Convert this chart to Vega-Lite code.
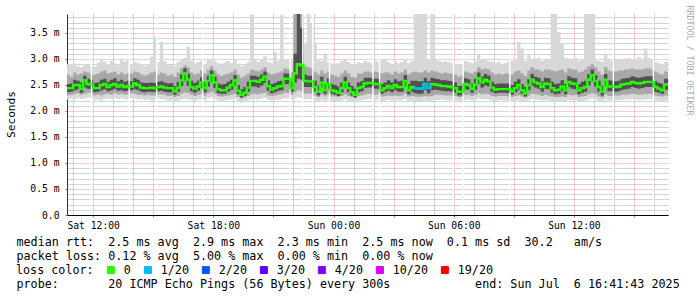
{
"$schema": "https://vega.github.io/schema/vega-lite/v6.json",
"width": 601, "height": 201,
"autosize": {"type": "none"},
"padding": {"left": 67, "top": 14, "right": 29, "bottom": 82},
"background": "white",
"config": {"view": {"stroke": null}},
"data": {"values": [
{"minute":640,"min":2.22,"max":2.9,"lo":2.3,"hi":2.7,"ilo":2.36,"ihi":2.52,"med":2.44,"loss":0},
{"minute":650,"min":2.24,"max":2.88,"lo":2.31,"hi":2.66,"ilo":2.37,"ihi":2.53,"med":2.44,"loss":0},
{"minute":660,"min":2.22,"max":2.92,"lo":2.33,"hi":2.74,"ilo":2.4,"ihi":2.6,"med":2.5,"loss":0},
{"minute":670,"min":2.25,"max":2.86,"lo":2.34,"hi":2.7,"ilo":2.42,"ihi":2.58,"med":2.5,"loss":0},
{"minute":680,"min":2.23,"max":2.84,"lo":2.31,"hi":2.72,"ilo":2.35,"ihi":2.55,"med":2.42,"loss":0},
{"minute":690,"min":2.24,"max":2.88,"lo":2.33,"hi":2.76,"ilo":2.45,"ihi":2.68,"med":2.59,"loss":0},
{"minute":700,"min":2.26,"max":2.9,"lo":2.35,"hi":2.74,"ilo":2.43,"ihi":2.62,"med":2.52,"loss":0},
{"minute":710,"min":2.25,"max":2.86,"lo":2.34,"hi":2.7,"ilo":2.42,"ihi":2.6,"med":2.51,"loss":0},
{"minute":720,"min":2.21,"max":2.85,"lo":2.3,"hi":2.7,"ilo":2.36,"ihi":2.54,"med":2.44,"loss":0},
{"minute":730,"min":2.22,"max":2.93,"lo":2.31,"hi":2.72,"ilo":2.37,"ihi":2.55,"med":2.44,"loss":0},
{"minute":740,"min":2.2,"max":2.98,"lo":2.3,"hi":2.76,"ilo":2.4,"ihi":2.6,"med":2.5,"loss":0},
{"minute":750,"min":2.23,"max":2.94,"lo":2.32,"hi":2.78,"ilo":2.42,"ihi":2.62,"med":2.52,"loss":0},
{"minute":760,"min":2.24,"max":2.9,"lo":2.33,"hi":2.72,"ilo":2.38,"ihi":2.56,"med":2.46,"loss":0},
{"minute":770,"min":2.22,"max":2.96,"lo":2.31,"hi":2.74,"ilo":2.4,"ihi":2.6,"med":2.5,"loss":0},
{"minute":780,"min":2.25,"max":2.92,"lo":2.34,"hi":2.76,"ilo":2.43,"ihi":2.63,"med":2.52,"loss":0},
{"minute":790,"min":2.23,"max":2.88,"lo":2.32,"hi":2.7,"ilo":2.39,"ihi":2.57,"med":2.47,"loss":0},
{"minute":800,"min":2.24,"max":3.0,"lo":2.33,"hi":2.74,"ilo":2.4,"ihi":2.6,"med":2.5,"loss":0},
{"minute":810,"min":2.22,"max":2.95,"lo":2.31,"hi":2.7,"ilo":2.38,"ihi":2.56,"med":2.46,"loss":0},
{"minute":820,"min":2.23,"max":2.98,"lo":2.32,"hi":2.73,"ilo":2.39,"ihi":2.58,"med":2.48,"loss":0},
{"minute":830,"min":2.25,"max":2.9,"lo":2.34,"hi":2.72,"ilo":2.4,"ihi":2.57,"med":2.47,"loss":0},
{"minute":840,"min":2.24,"max":2.94,"lo":2.33,"hi":2.76,"ilo":2.42,"ihi":2.63,"med":2.53,"loss":0},
{"minute":850,"min":2.22,"max":2.92,"lo":2.31,"hi":2.74,"ilo":2.4,"ihi":2.6,"med":2.5,"loss":0},
{"minute":860,"min":2.23,"max":2.88,"lo":2.31,"hi":2.7,"ilo":2.37,"ihi":2.55,"med":2.45,"loss":0},
{"minute":870,"min":2.21,"max":2.86,"lo":2.3,"hi":2.68,"ilo":2.36,"ihi":2.54,"med":2.44,"loss":0},
{"minute":880,"min":2.22,"max":2.9,"lo":2.31,"hi":2.7,"ilo":2.37,"ihi":2.54,"med":2.44,"loss":0},
{"minute":890,"min":2.2,"max":3.05,"lo":2.3,"hi":2.74,"ilo":2.37,"ihi":2.55,"med":2.45,"loss":0},
{"minute":900,"min":2.21,"max":3.43,"lo":2.3,"hi":2.76,"ilo":2.36,"ihi":2.54,"med":2.44,"loss":0},
{"minute":910,"min":2.24,"max":2.94,"lo":2.32,"hi":2.7,"ilo":2.38,"ihi":2.56,"med":2.46,"loss":0},
{"minute":920,"min":2.23,"max":3.33,"lo":2.32,"hi":2.74,"ilo":2.39,"ihi":2.57,"med":2.47,"loss":0},
{"minute":930,"min":2.22,"max":2.96,"lo":2.31,"hi":2.72,"ilo":2.37,"ihi":2.55,"med":2.45,"loss":0},
{"minute":940,"min":2.2,"max":2.9,"lo":2.29,"hi":2.68,"ilo":2.36,"ihi":2.53,"med":2.44,"loss":0},
{"minute":950,"min":2.21,"max":2.88,"lo":2.3,"hi":2.7,"ilo":2.36,"ihi":2.54,"med":2.44,"loss":0},
{"minute":960,"min":2.18,"max":2.86,"lo":2.27,"hi":2.66,"ilo":2.31,"ihi":2.48,"med":2.38,"loss":0},
{"minute":970,"min":2.2,"max":2.94,"lo":2.29,"hi":2.74,"ilo":2.37,"ihi":2.56,"med":2.45,"loss":0},
{"minute":980,"min":2.22,"max":2.98,"lo":2.33,"hi":2.82,"ilo":2.48,"ihi":2.7,"med":2.59,"loss":0},
{"minute":990,"min":2.24,"max":3.02,"lo":2.36,"hi":2.88,"ilo":2.58,"ihi":2.82,"med":2.72,"loss":0},
{"minute":1000,"min":2.22,"max":3.24,"lo":2.34,"hi":2.84,"ilo":2.48,"ihi":2.72,"med":2.6,"loss":0},
{"minute":1010,"min":2.21,"max":2.96,"lo":2.31,"hi":2.74,"ilo":2.38,"ihi":2.58,"med":2.46,"loss":0},
{"minute":1020,"min":2.2,"max":2.92,"lo":2.29,"hi":2.7,"ilo":2.35,"ihi":2.54,"med":2.43,"loss":0},
{"minute":1030,"min":2.22,"max":2.94,"lo":2.31,"hi":2.72,"ilo":2.39,"ihi":2.58,"med":2.47,"loss":0},
{"minute":1040,"min":2.23,"max":2.96,"lo":2.33,"hi":2.78,"ilo":2.44,"ihi":2.65,"med":2.55,"loss":0},
{"minute":1050,"min":2.21,"max":2.9,"lo":2.3,"hi":2.72,"ilo":2.36,"ihi":2.55,"med":2.44,"loss":0},
{"minute":1060,"min":2.24,"max":2.98,"lo":2.34,"hi":2.8,"ilo":2.47,"ihi":2.68,"med":2.58,"loss":0},
{"minute":1070,"min":2.26,"max":3.0,"lo":2.37,"hi":2.86,"ilo":2.56,"ihi":2.78,"med":2.69,"loss":0},
{"minute":1080,"min":2.23,"max":2.96,"lo":2.33,"hi":2.78,"ilo":2.44,"ihi":2.66,"med":2.55,"loss":0},
{"minute":1090,"min":2.2,"max":2.92,"lo":2.29,"hi":2.7,"ilo":2.34,"ihi":2.53,"med":2.42,"loss":0},
{"minute":1100,"min":2.19,"max":2.9,"lo":2.28,"hi":2.68,"ilo":2.33,"ihi":2.51,"med":2.4,"loss":0},
{"minute":1110,"min":2.2,"max":2.94,"lo":2.29,"hi":2.7,"ilo":2.33,"ihi":2.52,"med":2.4,"loss":0},
{"minute":1120,"min":2.21,"max":2.96,"lo":2.3,"hi":2.72,"ilo":2.37,"ihi":2.56,"med":2.45,"loss":0},
{"minute":1130,"min":2.22,"max":2.92,"lo":2.31,"hi":2.74,"ilo":2.41,"ihi":2.6,"med":2.5,"loss":0},
{"minute":1140,"min":2.24,"max":2.98,"lo":2.33,"hi":2.8,"ilo":2.48,"ihi":2.69,"med":2.59,"loss":0},
{"minute":1150,"min":2.19,"max":2.9,"lo":2.27,"hi":2.7,"ilo":2.32,"ihi":2.5,"med":2.39,"loss":0},
{"minute":1160,"min":2.16,"max":2.86,"lo":2.24,"hi":2.64,"ilo":2.26,"ihi":2.42,"med":2.31,"loss":0},
{"minute":1170,"min":2.18,"max":2.9,"lo":2.26,"hi":2.68,"ilo":2.29,"ihi":2.46,"med":2.35,"loss":0},
{"minute":1180,"min":2.2,"max":2.94,"lo":2.29,"hi":2.72,"ilo":2.37,"ihi":2.56,"med":2.45,"loss":0},
{"minute":1190,"min":2.22,"max":3.85,"lo":2.32,"hi":2.8,"ilo":2.47,"ihi":2.68,"med":2.58,"loss":0},
{"minute":1200,"min":2.23,"max":2.98,"lo":2.33,"hi":2.78,"ilo":2.47,"ihi":2.68,"med":2.58,"loss":0},
{"minute":1210,"min":2.22,"max":2.94,"lo":2.32,"hi":2.76,"ilo":2.45,"ihi":2.66,"med":2.56,"loss":0},
{"minute":1220,"min":2.24,"max":2.98,"lo":2.34,"hi":2.8,"ilo":2.49,"ihi":2.7,"med":2.6,"loss":0},
{"minute":1230,"min":2.25,"max":3.05,"lo":2.35,"hi":2.84,"ilo":2.54,"ihi":2.76,"med":2.66,"loss":0},
{"minute":1240,"min":2.21,"max":2.94,"lo":2.3,"hi":2.74,"ilo":2.39,"ihi":2.59,"med":2.48,"loss":0},
{"minute":1250,"min":2.2,"max":2.92,"lo":2.29,"hi":2.7,"ilo":2.34,"ihi":2.52,"med":2.41,"loss":0},
{"minute":1260,"min":2.21,"max":3.14,"lo":2.3,"hi":2.72,"ilo":2.36,"ihi":2.54,"med":2.44,"loss":0},
{"minute":1270,"min":2.22,"max":2.96,"lo":2.31,"hi":2.74,"ilo":2.39,"ihi":2.57,"med":2.47,"loss":0},
{"minute":1280,"min":2.23,"max":3.85,"lo":2.32,"hi":2.76,"ilo":2.4,"ihi":2.58,"med":2.48,"loss":0},
{"minute":1290,"min":2.25,"max":3.0,"lo":2.35,"hi":2.82,"ilo":2.52,"ihi":2.72,"med":2.62,"loss":0},
{"minute":1300,"min":2.24,"max":2.98,"lo":2.34,"hi":2.8,"ilo":2.52,"ihi":2.72,"med":2.62,"loss":0},
{"minute":1310,"min":2.22,"max":2.96,"lo":2.31,"hi":2.74,"ilo":2.37,"ihi":2.56,"med":2.44,"loss":0},
{"minute":1320,"min":2.24,"max":3.87,"lo":2.36,"hi":3.87,"ilo":2.55,"ihi":3.1,"med":2.72,"loss":0},
{"minute":1330,"min":2.26,"max":3.87,"lo":2.4,"hi":3.87,"ilo":2.62,"ihi":3.87,"med":2.9,"loss":0},
{"minute":1340,"min":2.25,"max":3.87,"lo":2.38,"hi":3.87,"ilo":2.6,"ihi":3.6,"med":2.88,"loss":0},
{"minute":1350,"min":2.22,"max":3.3,"lo":2.33,"hi":2.86,"ilo":2.46,"ihi":2.7,"med":2.58,"loss":0},
{"minute":1360,"min":2.23,"max":3.87,"lo":2.34,"hi":2.84,"ilo":2.46,"ihi":2.68,"med":2.57,"loss":0},
{"minute":1370,"min":2.22,"max":3.7,"lo":2.33,"hi":2.82,"ilo":2.46,"ihi":2.68,"med":2.57,"loss":0},
{"minute":1380,"min":2.2,"max":3.3,"lo":2.3,"hi":2.76,"ilo":2.38,"ihi":2.58,"med":2.46,"loss":0},
{"minute":1390,"min":2.18,"max":3.0,"lo":2.27,"hi":2.7,"ilo":2.3,"ihi":2.49,"med":2.37,"loss":0},
{"minute":1400,"min":2.21,"max":2.96,"lo":2.31,"hi":2.78,"ilo":2.45,"ihi":2.66,"med":2.55,"loss":0},
{"minute":1410,"min":2.19,"max":3.1,"lo":2.28,"hi":2.72,"ilo":2.33,"ihi":2.52,"med":2.4,"loss":0},
{"minute":1420,"min":2.21,"max":2.94,"lo":2.31,"hi":2.76,"ilo":2.43,"ihi":2.63,"med":2.52,"loss":0},
{"minute":1430,"min":2.19,"max":2.92,"lo":2.28,"hi":2.7,"ilo":2.33,"ihi":2.52,"med":2.4,"loss":0},
{"minute":1440,"min":2.19,"max":2.9,"lo":2.28,"hi":2.68,"ilo":2.31,"ihi":2.5,"med":2.38,"loss":0},
{"minute":1450,"min":2.18,"max":2.92,"lo":2.27,"hi":2.66,"ilo":2.29,"ihi":2.47,"med":2.35,"loss":0},
{"minute":1460,"min":2.2,"max":2.96,"lo":2.29,"hi":2.72,"ilo":2.36,"ihi":2.55,"med":2.44,"loss":0},
{"minute":1470,"min":2.22,"max":2.98,"lo":2.32,"hi":2.78,"ilo":2.45,"ihi":2.66,"med":2.55,"loss":0},
{"minute":1480,"min":2.2,"max":2.94,"lo":2.29,"hi":2.72,"ilo":2.36,"ihi":2.55,"med":2.44,"loss":0},
{"minute":1490,"min":2.18,"max":2.9,"lo":2.27,"hi":2.66,"ilo":2.3,"ihi":2.48,"med":2.36,"loss":0},
{"minute":1500,"min":2.17,"max":2.88,"lo":2.25,"hi":2.64,"ilo":2.26,"ihi":2.43,"med":2.31,"loss":0},
{"minute":1510,"min":2.2,"max":2.94,"lo":2.29,"hi":2.72,"ilo":2.36,"ihi":2.55,"med":2.44,"loss":0},
{"minute":1520,"min":2.21,"max":2.92,"lo":2.3,"hi":2.72,"ilo":2.38,"ihi":2.57,"med":2.46,"loss":0},
{"minute":1530,"min":2.22,"max":2.96,"lo":2.32,"hi":2.76,"ilo":2.44,"ihi":2.64,"med":2.53,"loss":0},
{"minute":1540,"min":2.23,"max":2.94,"lo":2.33,"hi":2.76,"ilo":2.45,"ihi":2.64,"med":2.54,"loss":0},
{"minute":1550,"min":2.22,"max":2.92,"lo":2.32,"hi":2.74,"ilo":2.45,"ihi":2.64,"med":2.54,"loss":0},
{"minute":1560,"min":2.21,"max":2.96,"lo":2.31,"hi":2.76,"ilo":2.43,"ihi":2.62,"med":2.52,"loss":0},
{"minute":1570,"min":2.22,"max":2.94,"lo":2.32,"hi":2.74,"ilo":2.43,"ihi":2.62,"med":2.52,"loss":0},
{"minute":1580,"min":2.19,"max":3.0,"lo":2.28,"hi":2.72,"ilo":2.33,"ihi":2.52,"med":2.4,"loss":0},
{"minute":1590,"min":2.2,"max":3.0,"lo":2.29,"hi":2.74,"ilo":2.36,"ihi":2.55,"med":2.44,"loss":0},
{"minute":1600,"min":2.21,"max":2.94,"lo":2.3,"hi":2.74,"ilo":2.39,"ihi":2.59,"med":2.48,"loss":0},
{"minute":1610,"min":2.2,"max":2.9,"lo":2.29,"hi":2.7,"ilo":2.36,"ihi":2.55,"med":2.44,"loss":0},
{"minute":1620,"min":2.21,"max":2.96,"lo":2.3,"hi":2.76,"ilo":2.4,"ihi":2.61,"med":2.5,"loss":0},
{"minute":1630,"min":2.2,"max":2.92,"lo":2.29,"hi":2.72,"ilo":2.37,"ihi":2.57,"med":2.46,"loss":0},
{"minute":1640,"min":2.21,"max":2.94,"lo":2.3,"hi":2.74,"ilo":2.37,"ihi":2.58,"med":2.46,"loss":0},
{"minute":1650,"min":2.23,"max":2.98,"lo":2.33,"hi":2.8,"ilo":2.47,"ihi":2.69,"med":2.58,"loss":0},
{"minute":1660,"min":2.19,"max":2.92,"lo":2.28,"hi":2.7,"ilo":2.32,"ihi":2.52,"med":2.4,"loss":0},
{"minute":1670,"min":2.2,"max":2.96,"lo":2.29,"hi":2.74,"ilo":2.37,"ihi":2.58,"med":2.46,"loss":0},
{"minute":1680,"min":2.19,"max":3.87,"lo":2.28,"hi":2.76,"ilo":2.34,"ihi":2.58,"med":2.44,"loss":1},
{"minute":1690,"min":2.18,"max":3.87,"lo":2.27,"hi":2.74,"ilo":2.33,"ihi":2.57,"med":2.43,"loss":1},
{"minute":1700,"min":2.19,"max":3.87,"lo":2.28,"hi":2.74,"ilo":2.33,"ihi":2.57,"med":2.43,"loss":1},
{"minute":1710,"min":2.2,"max":3.87,"lo":2.29,"hi":2.78,"ilo":2.4,"ihi":2.64,"med":2.52,"loss":1},
{"minute":1720,"min":2.19,"max":2.98,"lo":2.28,"hi":2.74,"ilo":2.34,"ihi":2.57,"med":2.44,"loss":1},
{"minute":1730,"min":2.2,"max":3.87,"lo":2.29,"hi":2.78,"ilo":2.4,"ihi":2.64,"med":2.52,"loss":1},
{"minute":1740,"min":2.21,"max":2.98,"lo":2.31,"hi":2.76,"ilo":2.41,"ihi":2.62,"med":2.51,"loss":0},
{"minute":1750,"min":2.21,"max":2.96,"lo":2.31,"hi":2.74,"ilo":2.4,"ihi":2.61,"med":2.5,"loss":0},
{"minute":1760,"min":2.22,"max":2.94,"lo":2.31,"hi":2.72,"ilo":2.39,"ihi":2.59,"med":2.48,"loss":0},
{"minute":1770,"min":2.21,"max":2.96,"lo":2.3,"hi":2.74,"ilo":2.38,"ihi":2.59,"med":2.48,"loss":0},
{"minute":1780,"min":2.2,"max":2.94,"lo":2.3,"hi":2.72,"ilo":2.38,"ihi":2.58,"med":2.47,"loss":0},
{"minute":1790,"min":2.21,"max":2.92,"lo":2.3,"hi":2.72,"ilo":2.37,"ihi":2.57,"med":2.46,"loss":0},
{"minute":1800,"min":2.2,"max":2.9,"lo":2.29,"hi":2.7,"ilo":2.35,"ihi":2.55,"med":2.44,"loss":0},
{"minute":1810,"min":2.18,"max":2.88,"lo":2.27,"hi":2.66,"ilo":2.3,"ihi":2.48,"med":2.37,"loss":0},
{"minute":1820,"min":2.19,"max":2.9,"lo":2.27,"hi":2.68,"ilo":2.3,"ihi":2.49,"med":2.37,"loss":0},
{"minute":1830,"min":2.21,"max":2.96,"lo":2.31,"hi":2.76,"ilo":2.42,"ihi":2.63,"med":2.52,"loss":0},
{"minute":1840,"min":2.22,"max":2.94,"lo":2.31,"hi":2.74,"ilo":2.41,"ihi":2.61,"med":2.5,"loss":0},
{"minute":1850,"min":2.2,"max":2.92,"lo":2.29,"hi":2.72,"ilo":2.35,"ihi":2.53,"med":2.42,"loss":0},
{"minute":1860,"min":2.21,"max":2.96,"lo":2.31,"hi":2.76,"ilo":2.41,"ihi":2.62,"med":2.51,"loss":0},
{"minute":1870,"min":2.24,"max":3.1,"lo":2.34,"hi":2.84,"ilo":2.52,"ihi":2.74,"med":2.63,"loss":0},
{"minute":1880,"min":2.22,"max":3.0,"lo":2.32,"hi":2.8,"ilo":2.45,"ihi":2.66,"med":2.55,"loss":0},
{"minute":1890,"min":2.23,"max":2.98,"lo":2.33,"hi":2.82,"ilo":2.49,"ihi":2.71,"med":2.6,"loss":0},
{"minute":1900,"min":2.22,"max":2.96,"lo":2.32,"hi":2.8,"ilo":2.47,"ihi":2.68,"med":2.57,"loss":0},
{"minute":1910,"min":2.2,"max":2.94,"lo":2.29,"hi":2.74,"ilo":2.37,"ihi":2.56,"med":2.45,"loss":0},
{"minute":1920,"min":2.19,"max":2.92,"lo":2.28,"hi":2.7,"ilo":2.34,"ihi":2.52,"med":2.41,"loss":0},
{"minute":1930,"min":2.2,"max":2.94,"lo":2.29,"hi":2.72,"ilo":2.35,"ihi":2.53,"med":2.42,"loss":0},
{"minute":1940,"min":2.21,"max":2.9,"lo":2.29,"hi":2.7,"ilo":2.35,"ihi":2.53,"med":2.42,"loss":0},
{"minute":1950,"min":2.2,"max":2.92,"lo":2.29,"hi":2.72,"ilo":2.35,"ihi":2.53,"med":2.42,"loss":0},
{"minute":1960,"min":2.19,"max":2.94,"lo":2.28,"hi":2.72,"ilo":2.34,"ihi":2.53,"med":2.42,"loss":0},
{"minute":1970,"min":2.18,"max":2.96,"lo":2.27,"hi":2.7,"ilo":2.31,"ihi":2.5,"med":2.38,"loss":0},
{"minute":1980,"min":2.2,"max":3.0,"lo":2.29,"hi":2.76,"ilo":2.36,"ihi":2.56,"med":2.44,"loss":0},
{"minute":1990,"min":2.21,"max":3.33,"lo":2.3,"hi":2.78,"ilo":2.4,"ihi":2.61,"med":2.5,"loss":0},
{"minute":2000,"min":2.19,"max":3.2,"lo":2.28,"hi":2.72,"ilo":2.33,"ihi":2.52,"med":2.4,"loss":0},
{"minute":2010,"min":2.17,"max":2.96,"lo":2.26,"hi":2.68,"ilo":2.28,"ihi":2.46,"med":2.34,"loss":0},
{"minute":2020,"min":2.2,"max":3.1,"lo":2.3,"hi":2.78,"ilo":2.4,"ihi":2.61,"med":2.5,"loss":0},
{"minute":2030,"min":2.23,"max":3.0,"lo":2.33,"hi":2.84,"ilo":2.49,"ihi":2.71,"med":2.6,"loss":0},
{"minute":2040,"min":2.22,"max":2.98,"lo":2.32,"hi":2.8,"ilo":2.45,"ihi":2.66,"med":2.55,"loss":0},
{"minute":2050,"min":2.21,"max":3.02,"lo":2.31,"hi":2.8,"ilo":2.43,"ihi":2.64,"med":2.53,"loss":0},
{"minute":2060,"min":2.2,"max":2.96,"lo":2.29,"hi":2.76,"ilo":2.37,"ihi":2.57,"med":2.46,"loss":0},
{"minute":2070,"min":2.21,"max":2.98,"lo":2.31,"hi":2.8,"ilo":2.43,"ihi":2.64,"med":2.53,"loss":0},
{"minute":2080,"min":2.2,"max":3.0,"lo":2.3,"hi":2.8,"ilo":2.42,"ihi":2.63,"med":2.52,"loss":0},
{"minute":2090,"min":2.19,"max":3.87,"lo":2.28,"hi":2.78,"ilo":2.35,"ihi":2.56,"med":2.44,"loss":0},
{"minute":2100,"min":2.18,"max":3.87,"lo":2.27,"hi":2.76,"ilo":2.32,"ihi":2.52,"med":2.4,"loss":0},
{"minute":2110,"min":2.18,"max":3.52,"lo":2.27,"hi":2.78,"ilo":2.33,"ihi":2.53,"med":2.41,"loss":0},
{"minute":2120,"min":2.19,"max":3.3,"lo":2.28,"hi":2.8,"ilo":2.38,"ihi":2.59,"med":2.47,"loss":0},
{"minute":2130,"min":2.18,"max":3.02,"lo":2.27,"hi":2.74,"ilo":2.32,"ihi":2.52,"med":2.4,"loss":0},
{"minute":2140,"min":2.21,"max":3.0,"lo":2.31,"hi":2.82,"ilo":2.46,"ihi":2.67,"med":2.56,"loss":0},
{"minute":2150,"min":2.2,"max":2.98,"lo":2.3,"hi":2.8,"ilo":2.43,"ihi":2.64,"med":2.53,"loss":0},
{"minute":2160,"min":2.21,"max":3.02,"lo":2.31,"hi":2.8,"ilo":2.42,"ihi":2.63,"med":2.52,"loss":0},
{"minute":2170,"min":2.18,"max":2.96,"lo":2.27,"hi":2.74,"ilo":2.32,"ihi":2.52,"med":2.4,"loss":0},
{"minute":2180,"min":2.19,"max":2.98,"lo":2.28,"hi":2.76,"ilo":2.35,"ihi":2.56,"med":2.44,"loss":0},
{"minute":2190,"min":2.2,"max":3.87,"lo":2.29,"hi":2.8,"ilo":2.37,"ihi":2.58,"med":2.46,"loss":0},
{"minute":2200,"min":2.22,"max":3.87,"lo":2.32,"hi":2.86,"ilo":2.49,"ihi":2.71,"med":2.6,"loss":0},
{"minute":2210,"min":2.24,"max":3.87,"lo":2.34,"hi":2.9,"ilo":2.57,"ihi":2.8,"med":2.69,"loss":0},
{"minute":2220,"min":2.22,"max":3.0,"lo":2.32,"hi":2.84,"ilo":2.47,"ihi":2.69,"med":2.58,"loss":0},
{"minute":2230,"min":2.19,"max":2.96,"lo":2.28,"hi":2.76,"ilo":2.37,"ihi":2.58,"med":2.46,"loss":0},
{"minute":2240,"min":2.17,"max":2.94,"lo":2.26,"hi":2.7,"ilo":2.3,"ihi":2.49,"med":2.37,"loss":0},
{"minute":2250,"min":2.22,"max":3.1,"lo":2.32,"hi":2.84,"ilo":2.49,"ihi":2.71,"med":2.6,"loss":0},
{"minute":2260,"min":2.2,"max":2.98,"lo":2.29,"hi":2.78,"ilo":2.38,"ihi":2.59,"med":2.47,"loss":0},
{"minute":2270,"min":2.2,"max":2.96,"lo":2.29,"hi":2.76,"ilo":2.38,"ihi":2.58,"med":2.47,"loss":0},
{"minute":2280,"min":2.2,"max":2.98,"lo":2.3,"hi":2.76,"ilo":2.37,"ihi":2.57,"med":2.46,"loss":0},
{"minute":2290,"min":2.21,"max":3.0,"lo":2.3,"hi":2.78,"ilo":2.38,"ihi":2.58,"med":2.47,"loss":0},
{"minute":2300,"min":2.21,"max":3.0,"lo":2.31,"hi":2.78,"ilo":2.41,"ihi":2.62,"med":2.51,"loss":0},
{"minute":2310,"min":2.22,"max":2.98,"lo":2.31,"hi":2.8,"ilo":2.42,"ihi":2.63,"med":2.52,"loss":0},
{"minute":2320,"min":2.22,"max":3.02,"lo":2.32,"hi":2.8,"ilo":2.43,"ihi":2.64,"med":2.53,"loss":0},
{"minute":2330,"min":2.23,"max":3.0,"lo":2.33,"hi":2.82,"ilo":2.46,"ihi":2.67,"med":2.56,"loss":0},
{"minute":2340,"min":2.22,"max":2.98,"lo":2.32,"hi":2.8,"ilo":2.44,"ihi":2.65,"med":2.54,"loss":0},
{"minute":2350,"min":2.21,"max":3.04,"lo":2.31,"hi":2.8,"ilo":2.43,"ihi":2.64,"med":2.53,"loss":0},
{"minute":2360,"min":2.22,"max":3.0,"lo":2.32,"hi":2.8,"ilo":2.44,"ihi":2.65,"med":2.54,"loss":0},
{"minute":2370,"min":2.22,"max":3.2,"lo":2.32,"hi":2.82,"ilo":2.46,"ihi":2.67,"med":2.56,"loss":0},
{"minute":2380,"min":2.23,"max":3.02,"lo":2.33,"hi":2.82,"ilo":2.46,"ihi":2.67,"med":2.56,"loss":0},
{"minute":2390,"min":2.22,"max":3.0,"lo":2.32,"hi":2.8,"ilo":2.46,"ihi":2.67,"med":2.56,"loss":0},
{"minute":2400,"min":2.2,"max":2.94,"lo":2.3,"hi":2.76,"ilo":2.37,"ihi":2.57,"med":2.46,"loss":0},
{"minute":2410,"min":2.19,"max":2.92,"lo":2.29,"hi":2.72,"ilo":2.35,"ihi":2.54,"med":2.43,"loss":0},
{"minute":2420,"min":2.18,"max":2.9,"lo":2.28,"hi":2.7,"ilo":2.33,"ihi":2.52,"med":2.4,"loss":0},
{"minute":2430,"min":2.2,"max":2.94,"lo":2.3,"hi":2.76,"ilo":2.41,"ihi":2.62,"med":2.51,"loss":0},
{"minute":2440,"min":2.2,"max":2.94,"lo":2.3,"hi":2.76,"ilo":2.41,"ihi":2.62,"med":2.51,"loss":0},
{"minute":2450,"min":2.2,"max":2.94,"lo":2.3,"hi":2.76,"ilo":2.41,"ihi":2.62,"med":2.51,"loss":0}
]},
"resolve": {"axis": {"x": "independent", "y": "independent"}},
"layer": [
{
"mark": {"type": "area", "interpolate": "step-after", "color": "#d8d8d8", "clip": true},
"encoding": {
"x": {"field": "minute", "type": "quantitative",
 "scale": {"domain": [641.72, 2441.72], "nice": false, "zero": false},
 "axis": {
  "orient": "bottom",
  "values": [720, 900, 1080, 1260, 1440, 1620, 1800, 1980, 2160, 2340],
  "labelExpr": "datum.value % 360 == 0 ? (datum.value < 1440 ? 'Sat ' : 'Sun ') + (floor((datum.value % 1440) / 60) < 10 ? '0' : '') + floor((datum.value % 1440) / 60) + ':00' : ''",
  "labelFont": "DejaVu Sans Mono", "labelFontSize": 9.7, "labelColor": "#000", "labelPadding": 3, "labelOverlap": false, "labelFlush": false, "labelAngle": 0,
  "ticks": true, "tickSize": 2, "tickColor": "#c07070",
  "grid": true, "gridColor": "#e89c9c", "gridDash": [1, 1], "gridWidth": 1,
  "domainColor": "#000", "domainWidth": 1,
  "title": ["median rtt:\u00a0\u00a02.5 ms avg\u00a0\u00a02.9 ms max\u00a0\u00a02.3 ms min\u00a0\u00a02.5 ms now\u00a0\u00a00.1 ms sd\u00a0\u00a030.2\u00a0\u00a0\u00a0am/s", "packet loss: 0.12 % avg\u00a0\u00a05.00 % max\u00a0\u00a00.00 % min\u00a0\u00a00.00 % now"],
  "titleX": -51, "titleY": 30, "titleAlign": "left", "titleBaseline": "alphabetic", "titleAngle": 0,
  "titleFont": "DejaVu Sans Mono", "titleFontSize": 11.72, "titleFontWeight": "normal", "titleColor": "#000", "titleLineHeight": 14.1
 }},
"y": {"field": "min", "type": "quantitative",
 "scale": {"domain": [0, 3.865], "nice": false, "zero": true},
 "axis": {
  "orient": "left",
  "values": [0, 0.5, 1, 1.5, 2, 2.5, 3, 3.5],
  "labelExpr": "datum.value == 0 ? '0.0' : format(datum.value, '.1f') + ' m'",
  "labelFont": "DejaVu Sans Mono", "labelFontSize": 9.7, "labelColor": "#000", "labelPadding": 6, "labelOverlap": false, "labelFlush": false,
  "ticks": true, "tickSize": 2, "tickColor": "#c07070",
  "grid": true, "gridColor": "#e89c9c", "gridDash": [1, 1], "gridWidth": 1,
  "domainColor": "#333", "domainWidth": 1,
  "title": "Seconds", "titleFont": "DejaVu Sans Mono", "titleFontSize": 11.2, "titleFontWeight": "normal", "titleColor": "#000",
  "titleX": -56, "titleY": 100, "titleAngle": 270, "titleAlign": "center", "titleBaseline": "middle"
 }},
"y2": {"field": "max"}
}
},
{
"mark": {"type": "area", "interpolate": "step-after", "color": "#a8a8a8", "clip": true},
"encoding": {
"x": {"field": "minute", "type": "quantitative",
 "axis": {
  "orient": "bottom",
  "values": [660, 780, 840, 960, 1020, 1140, 1200, 1320, 1380, 1500, 1560, 1680, 1740, 1860, 1920, 2040, 2100, 2220, 2280, 2400],
  "labels": false, "ticks": false, "domain": false,
  "grid": true, "gridColor": "#a8a8a8", "gridDash": [1, 1], "gridWidth": 1,
  "title": "probe:\u00a0\u00a0\u00a0\u00a0\u00a0\u00a0\u00a020 ICMP Echo Pings (56 Bytes) every 300s\u00a0\u00a0\u00a0\u00a0\u00a0\u00a0\u00a0\u00a0\u00a0\u00a0\u00a0\u00a0end: Sun Jul\u00a0\u00a06 16:41:43 2025",
  "titleX": -51, "titleY": 72.3, "titleAlign": "left", "titleBaseline": "alphabetic", "titleAngle": 0,
  "titleFont": "DejaVu Sans Mono", "titleFontSize": 11.72, "titleFontWeight": "normal", "titleColor": "#000"
 }},
"y": {"field": "lo", "type": "quantitative",
 "axis": {
  "orient": "right",
  "values": [0.1, 0.2, 0.3, 0.4, 0.6, 0.7, 0.8, 0.9, 1.1, 1.2, 1.3, 1.4, 1.6, 1.7, 1.8, 1.9, 2.1, 2.2, 2.3, 2.4, 2.6, 2.7, 2.8, 2.9, 3.1, 3.2, 3.3, 3.4, 3.6, 3.7, 3.8],
  "labels": false, "ticks": false, "domain": false,
  "grid": true, "gridColor": "#a8a8a8", "gridDash": [1, 1], "gridWidth": 1,
  "title": "RRDTOOL / TOBI OETIKER", "titleFont": "DejaVu Sans Mono", "titleFontSize": 8.3, "titleFontWeight": "normal", "titleColor": "#ababab",
  "titleAngle": 90, "titleAlign": "left", "titleBaseline": "middle", "titleX": 20, "titleY": -9
 }},
"y2": {"field": "hi"}
}
},
{
"mark": {"type": "area", "interpolate": "step-after", "color": "#505050", "clip": true},
"encoding": {
"x": {"field": "minute", "type": "quantitative", "axis": null},
"y": {"field": "ilo", "type": "quantitative", "axis": null},
"y2": {"field": "ihi"}
}
},
{
"data": {"values": [
{"minute": 715}, {"minute": 828}, {"minute": 910}, {"minute": 1048}, {"minute": 1310}, {"minute": 1348}, {"minute": 1378}, {"minute": 1428}, {"minute": 1558}, {"minute": 1578}, {"minute": 1799}, {"minute": 1828}, {"minute": 1968}, {"minute": 2278}, {"minute": 2398}
]},
"mark": {"type": "rule", "color": "#ffffff", "strokeWidth": 1.4, "clip": true},
"encoding": {
"x": {"field": "minute", "type": "quantitative", "axis": null}
}
},
{
"mark": {"type": "line", "interpolate": "step-after", "strokeWidth": 2.4, "clip": true},
"encoding": {
"x": {"field": "minute", "type": "quantitative", "axis": null},
"y": {"field": "med", "type": "quantitative", "axis": null},
"color": {"datum": "0", "type": "nominal",
 "scale": {"domain": ["0", "1/20", "2/20", "3/20", "4/20", "10/20", "19/20"], "range": ["#26ff00", "#00b8ff", "#0059ff", "#5e00ff", "#7e00ff", "#dd00ff", "#ff0000"]},
 "legend": {"orient": "none", "legendX": -51, "legendY": 250, "direction": "horizontal",
  "title": "loss color:", "titleOrient": "left", "titleFont": "DejaVu Sans Mono", "titleFontSize": 11.72, "titleFontWeight": "normal", "titleColor": "#000", "titlePadding": 11,
  "labelFont": "DejaVu Sans Mono", "labelFontSize": 11.72, "labelColor": "#000", "labelOffset": 7, "columnPadding": 11,
  "symbolType": "square", "symbolSize": 49, "symbolStrokeColor": "#000", "symbolStrokeWidth": 1,
  "encode": {"symbols": {"update": {"fill": {"scale": "color", "field": "value"}, "stroke": {"value": "#000000"}, "strokeWidth": {"value": 1}}}}
 }}
}
},
{
"transform": [{"filter": "datum.loss > 0"}],
"mark": {"type": "line", "interpolate": "step-after", "strokeWidth": 2.4, "clip": true},
"encoding": {
"x": {"field": "minute", "type": "quantitative", "axis": null},
"y": {"field": "med", "type": "quantitative", "axis": null},
"color": {"datum": "1/20", "type": "nominal"}
}
}
]
}
